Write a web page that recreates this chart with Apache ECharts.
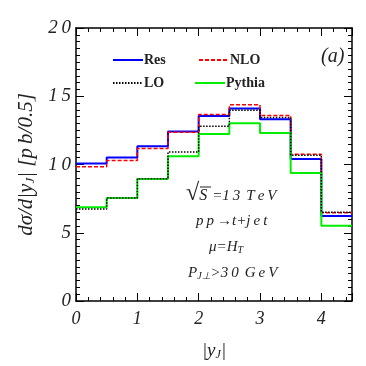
<!DOCTYPE html>
<html>
<head>
<meta charset="utf-8">
<script src="https://cdn.jsdelivr.net/npm/echarts@6/dist/echarts.min.js"></script>
<style>html,body{margin:0;padding:0;background:#fff}#c{width:366px;height:366px}</style>
</head>
<body>
<div id="c"></div>
<script>
var edges = [0, 0.5, 1, 1.5, 2, 2.5, 3, 3.5, 4, 4.5];
var resVals = [10.08, 10.52, 11.33, 12.42, 13.56, 14.1, 13.32, 10.4, 6.23];
var nloVals = [9.83, 10.3, 11.18, 12.37, 13.66, 14.37, 13.59, 10.75, 6.46];
var loVals = [6.74, 7.55, 8.96, 10.92, 12.81, 13.98, 13.44, 10.68, 6.5];
var pythiaVals = [6.87, 7.55, 8.94, 10.6, 12.23, 13.03, 12.3, 9.38, 5.52];
var seriesNames = ['Res', 'NLO', 'LO', 'Pythia'];
var xTicks = [0, 1, 2, 3, 4];
var yTicks = [0, 5, 10, 15, 20];

function stepData(vals) {
  var d = [];
  for (var i = 0; i < vals.length; i++) d.push([edges[i], vals[i]]);
  d.push([edges[edges.length - 1], vals[vals.length - 1]]);
  return d;
}
var serif = 'Liberation Serif';
var chart = echarts.init(document.getElementById('c'), null, {renderer: 'canvas'});
function spaced(v) { return String(v).split('').join('\u2009'); }
var tickCommon = {inside: true, length: 8, lineStyle: {color: '#000', width: 1}};
var minorCommon = {show: true, length: 4, lineStyle: {color: '#000', width: 1}};
var lineCommon = {show: true, onZero: false, lineStyle: {color: '#000', width: 1.5}};
function legendItem(name, left, top) {
  return {
    data: [name], left: left, top: top, itemWidth: 30, itemHeight: 12, itemGap: 0, padding: 0,
    selectedMode: false,
    itemStyle: {opacity: 0, borderWidth: 0},
    textStyle: {fontFamily: serif, fontWeight: 'bold', fontSize: 14, color: '#222', padding: [0, 0, 0, -4]}
  };
}
var option = {
  animation: false,
  backgroundColor: '#fff',
  grid: {left: 76, right: 14, top: 28, bottom: 63.5},
  legend: [
    legendItem(seriesNames[0], 112, 53),
    legendItem(seriesNames[1], 198, 53),
    legendItem(seriesNames[2], 112, 76),
    legendItem(seriesNames[3], 194, 76)
  ],
  xAxis: [{
    type: 'value', min: 0, max: 4.5, interval: 1,
    axisLine: lineCommon, axisTick: tickCommon,
    minorTick: Object.assign({splitNumber: 5}, minorCommon),
    splitLine: {show: false},
    axisLabel: {fontFamily: serif, fontStyle: 'italic', fontSize: 18, color: '#222', margin: 9,
      showMaxLabel: false,
      formatter: function (v) { return xTicks.indexOf(v) >= 0 ? spaced(v) : ''; }},
    name: '{a||y}{s|J}{a||}', nameLocation: 'middle', nameGap: 40,
    nameTextStyle: {rich: {
      a: {fontFamily: serif, fontStyle: 'italic', fontSize: 19, color: '#222'},
      s: {fontFamily: serif, fontStyle: 'italic', fontSize: 12, color: '#222', padding: [8, 0, 0, 0]}
    }}
  }, {
    type: 'value', min: 0, max: 4.5, interval: 1, position: 'top',
    axisLine: lineCommon, axisTick: tickCommon,
    minorTick: Object.assign({splitNumber: 5}, minorCommon),
    splitLine: {show: false}, axisLabel: {show: false}
  }],
  yAxis: [{
    type: 'value', min: 0, max: 20, interval: 5,
    axisLine: lineCommon, axisTick: tickCommon,
    minorTick: Object.assign({splitNumber: 10}, minorCommon),
    splitLine: {show: false},
    axisLabel: {fontFamily: serif, fontStyle: 'italic', fontSize: 19, color: '#222', margin: 5,
      formatter: function (v) { return yTicks.indexOf(v) >= 0 ? spaced(v) : ''; }},
    name: '{a|d\u03c3/d|y}{s|J}{a|| [p\u2009b/0.5]}', nameLocation: 'middle', nameGap: 38, nameRotate: 90,
    nameTextStyle: {rich: {
      a: {fontFamily: serif, fontStyle: 'italic', fontSize: 21, color: '#222'},
      s: {fontFamily: serif, fontStyle: 'italic', fontSize: 13, color: '#222', padding: [9, 0, 0, 0]}
    }}
  }, {
    type: 'value', min: 0, max: 20, interval: 5, position: 'right',
    axisLine: lineCommon, axisTick: tickCommon,
    minorTick: Object.assign({splitNumber: 10}, minorCommon),
    splitLine: {show: false}, axisLabel: {show: false}
  }],
  series: [
    {name: seriesNames[0], type: 'line', step: 'end', symbol: 'none', z: 2,
     data: stepData(resVals), itemStyle: {color: '#0000ff'}, lineStyle: {color: '#0000ff', width: 2}},
    {name: seriesNames[1], type: 'line', step: 'end', symbol: 'none', z: 3,
     data: stepData(nloVals), itemStyle: {color: '#ff0000'}, lineStyle: {color: '#ff0000', width: 1.5, type: [4, 2]}},
    {name: seriesNames[3], type: 'line', step: 'end', symbol: 'none', z: 4,
     data: stepData(pythiaVals), itemStyle: {color: '#00ee00'}, lineStyle: {color: '#00ee00', width: 2}},
    {name: seriesNames[2], type: 'line', step: 'end', symbol: 'none', z: 5,
     data: stepData(loVals), itemStyle: {color: '#000'}, lineStyle: {color: '#000', width: 1.5, type: [1.5, 1.5]}}
  ],
  graphic: [
    {type: 'text', left: 321, top: 47, style: {text: '(a)', fontFamily: serif, fontStyle: 'italic', fontSize: 20, fill: '#222'}},
    {type: 'text', left: 186, top: 182, style: {
      text: '{r|\u221a}{o|S}{t|=1\u20093\u2009\u2009T\u2009e\u2009V}',
      rich: {
        r: {fontFamily: serif, fontSize: 24, fill: '#222'},
        o: {fontFamily: serif, fontStyle: 'italic', fontSize: 16, fill: '#222', padding: [4, 0, 0, 0]},
        t: {fontFamily: serif, fontStyle: 'italic', fontSize: 15, fill: '#222', padding: [4, 0, 0, 5]}
      }}},
    {type: 'line', shape: {x1: 200, y1: 187, x2: 211, y2: 187}, style: {stroke: '#222', lineWidth: 1}},
    {type: 'text', left: 196, top: 214, style: {
      text: 'p\u2009p\u2009\u2192t+j\u2009e\u2009t', fontFamily: serif, fontStyle: 'italic', fontSize: 15, fill: '#222'}},
    {type: 'text', left: 209, top: 240, style: {
      text: '{t|\u03bc=H}{s|T}',
      rich: {
        t: {fontFamily: serif, fontStyle: 'italic', fontSize: 15, fill: '#222'},
        s: {fontFamily: serif, fontStyle: 'italic', fontSize: 10, fill: '#222', padding: [6, 0, 0, 0]}
      }}},
    {type: 'text', left: 188, top: 266, style: {
      text: '{t|P}{s|J\u22a5}{t|>3\u20090\u2009\u2009G\u2009e\u2009V}',
      rich: {
        t: {fontFamily: serif, fontStyle: 'italic', fontSize: 15, fill: '#222'},
        s: {fontFamily: serif, fontStyle: 'italic', fontSize: 10, fill: '#222', padding: [6, 0, 0, 0]}
      }}}
  ]
};
chart.setOption(option);
</script>
</body>
</html>
